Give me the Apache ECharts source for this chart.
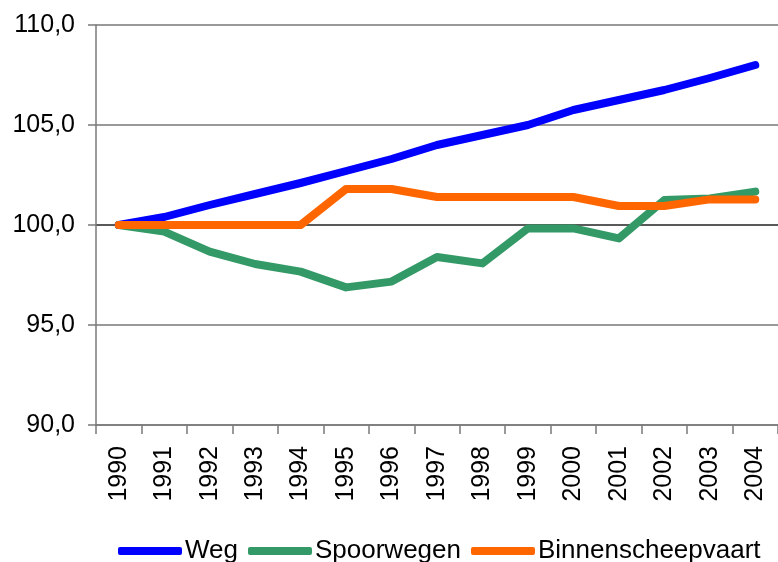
<!DOCTYPE html>
<html>
<head>
<meta charset="utf-8">
<script src="https://cdn.jsdelivr.net/npm/echarts@6/dist/echarts.min.js"></script>
<style>
html,body{margin:0;padding:0;background:#fff;}
#chart{width:778px;height:562px;}
</style>
</head>
<body>
<div id="chart"></div>
<script>
var years = ['1990','1991','1992','1993','1994','1995','1996','1997','1998','1999','2000','2001','2002','2003','2004'];
var weg = [100, 100.4, 101.0, 101.55, 102.1, 102.7, 103.3, 104.0, 104.5, 105.0, 105.75, 106.25, 106.75, 107.35, 108.0];
var spoorwegen = [100, 99.67, 98.67, 98.05, 97.67, 96.88, 97.17, 98.4, 98.08, 99.83, 99.83, 99.33, 101.25, 101.33, 101.67];
var binnenscheepvaart = [100, 100, 100, 100, 100, 101.8, 101.8, 101.4, 101.4, 101.4, 101.4, 100.95, 100.95, 101.28, 101.28];
var seriesNames = ['Weg', 'Spoorwegen', 'Binnenscheepvaart'];

var chart = echarts.init(document.getElementById('chart'), null, {renderer: 'canvas'});
var font = 'Liberation Sans, Arial, sans-serif';
function mkSeries(name, data, color) {
  return {
    name: name, type: 'line', data: data, showSymbol: false, symbol: 'none',
    color: color,
    lineStyle: {color: color, width: 8, cap: 'round', join: 'round'},
    emphasis: {disabled: true}
  };
}
chart.setOption({
  animation: false,
  backgroundColor: '#fff',
  grid: {left: 96, top: 25, width: 691, height: 400, containLabel: false},
  xAxis: {
    type: 'category', data: years, boundaryGap: true,
    axisLine: {lineStyle: {color: '#7a7a7a', width: 1.5}},
    axisTick: {show: true, length: 9, lineStyle: {color: '#7a7a7a', width: 1.5}},
    axisLabel: {rotate: 90, margin: 21, fontSize: 25, color: '#000', fontFamily: font, interval: 0},
    splitLine: {show: false}
  },
  yAxis: {
    type: 'value', min: 90, max: 110, interval: 5,
    axisLine: {show: true, lineStyle: {color: '#7a7a7a', width: 1.5}},
    axisTick: {show: true, length: 8, lineStyle: {color: '#7a7a7a', width: 1.5}},
    axisLabel: {margin: 21, fontSize: 25, color: '#000', fontFamily: font,
      formatter: function (v) { return v.toFixed(1).replace('.', ','); }},
    splitLine: {show: true, lineStyle: {color: ['#777777', '#777777', '#222222', '#777777', '#777777'], width: 1.5}}
  },
  legend: {
    data: seriesNames, left: 113, top: 533, icon: 'roundRect',
    itemWidth: 64, itemHeight: 8, itemGap: 10,
    textStyle: {fontSize: 26, color: '#000', fontFamily: font, padding: [0, 0, 0, -2]}
  },
  series: [
    mkSeries(seriesNames[0], weg, '#0000ff'),
    mkSeries(seriesNames[1], spoorwegen, '#339966'),
    mkSeries(seriesNames[2], binnenscheepvaart, '#ff6600')
  ]
});
</script>
</body>
</html>
